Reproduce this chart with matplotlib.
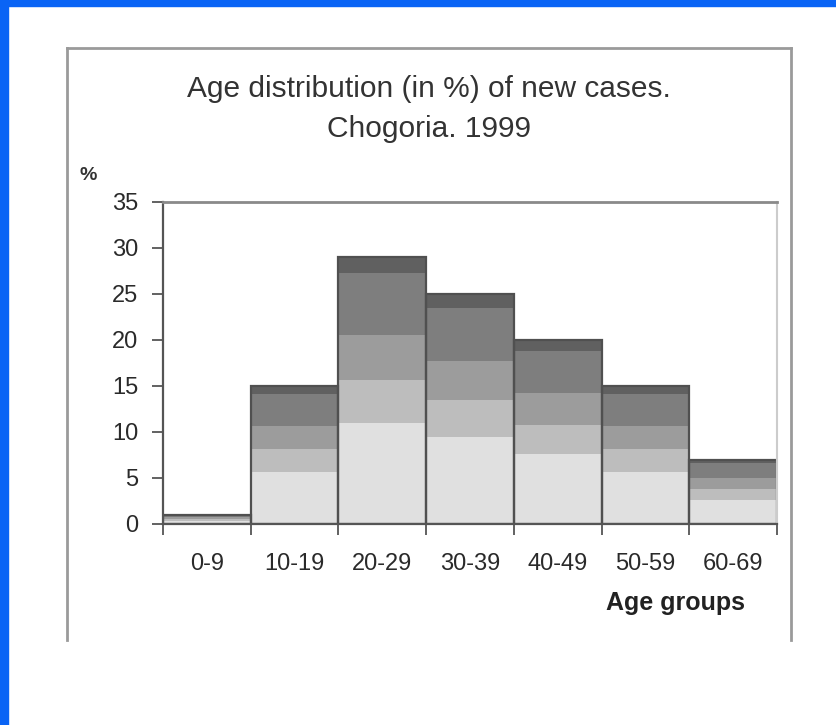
import matplotlib
matplotlib.use("Agg")
import matplotlib.pyplot as plt
from matplotlib.lines import Line2D

# data
age_groups = ["0-9", "10-19", "20-29", "30-39", "40-49", "50-59", "60-69"]
pct_new_cases = [1, 15, 29, 25, 20, 15, 7]
y_ticks = [0, 5, 10, 15, 20, 25, 30, 35]

# gradient fill of each bar: fraction of bar height where each band ends
band_tops = [0.38, 0.54, 0.71, 0.94, 1.0]
band_colors = ["#e0e0e0", "#bdbdbd", "#9c9c9c", "#7e7e7e", "#606060"]

W, H = 836, 725
fig = plt.figure(figsize=(W / 100, H / 100), dpi=100)
fig.patch.set_facecolor("white")
plt.rcParams["font.family"] = ["Liberation Sans", "DejaVu Sans"]

def px(x, y):
    return x / W, 1 - y / H

# blue frame of the slide (left and top)
fig.patches.append(plt.Rectangle((0, 0), 8 / W, 1, transform=fig.transFigure,
                                 color="#0a64f5", zorder=10))
fig.patches.append(plt.Rectangle((0, 1 - 6 / H), 1, 6 / H, transform=fig.transFigure,
                                 color="#0a64f5", zorder=10))

# outer chart box
for (x0, y0), (x1, y1) in [((67, 48), (791, 48)), ((67, 48), (67, 640)), ((791, 48), (791, 640))]:
    a, b = px(x0, y0)
    c, d = px(x1, y1)
    fig.add_artist(Line2D([a, c], [b, d], transform=fig.transFigure, color="#9a9a9a", lw=2))

ax = fig.add_axes([163 / W, 1 - 524 / H, (777 - 163) / W, (524 - 202) / H])

x = range(len(age_groups))
bottom_frac = 0.0
for top_frac, col in zip(band_tops, band_colors):
    heights = [v * (top_frac - bottom_frac) for v in pct_new_cases]
    bottoms = [v * bottom_frac for v in pct_new_cases]
    ax.bar(x, heights, bottom=bottoms, width=1.0, align="edge", color=col, lw=0)
    bottom_frac = top_frac
ax.bar(x, pct_new_cases, width=1.0, align="edge", fill=False, edgecolor="#505050", lw=1.6)

ax.set_xlim(0, len(age_groups))
ax.set_ylim(0, 35)
ax.set_yticks(y_ticks)
ax.set_yticklabels([str(t) for t in y_ticks], fontsize=17, color="#2a2a2a")
ax.tick_params(axis="y", direction="out", length=8, width=1.3, color="#555555", pad=10)

ax.set_xticks(range(len(age_groups) + 1))
ax.set_xticklabels([])
ax.set_xticks([i + 0.5 for i in x], minor=True)
ax.set_xticklabels(age_groups, minor=True, fontsize=17, color="#2a2a2a")
ax.tick_params(axis="x", which="major", direction="out", length=8, width=1.3, color="#555555")
ax.tick_params(axis="x", which="minor", length=0, pad=21)

for side, col, lw in [("left", "#555555", 1.6), ("bottom", "#555555", 1.6),
                      ("top", "#8a8a8a", 2.0), ("right", "#cccccc", 1.5)]:
    ax.spines[side].set_color(col)
    ax.spines[side].set_linewidth(lw)

fig.text(*px(429, 89), "Age distribution (in %) of new cases.", ha="center", va="center",
         fontsize=21.5, color="#333333")
fig.text(*px(429, 129), "Chogoria. 1999", ha="center", va="center",
         fontsize=21.5, color="#333333")
fig.text(*px(88, 176), "%", ha="center", va="center", fontsize=14, fontweight="bold", color="#333333")
fig.text(*px(675, 603), "Age groups", ha="center", va="center", fontsize=18,
         fontweight="bold", color="#222222")

fig.savefig("out.png", dpi=100)
